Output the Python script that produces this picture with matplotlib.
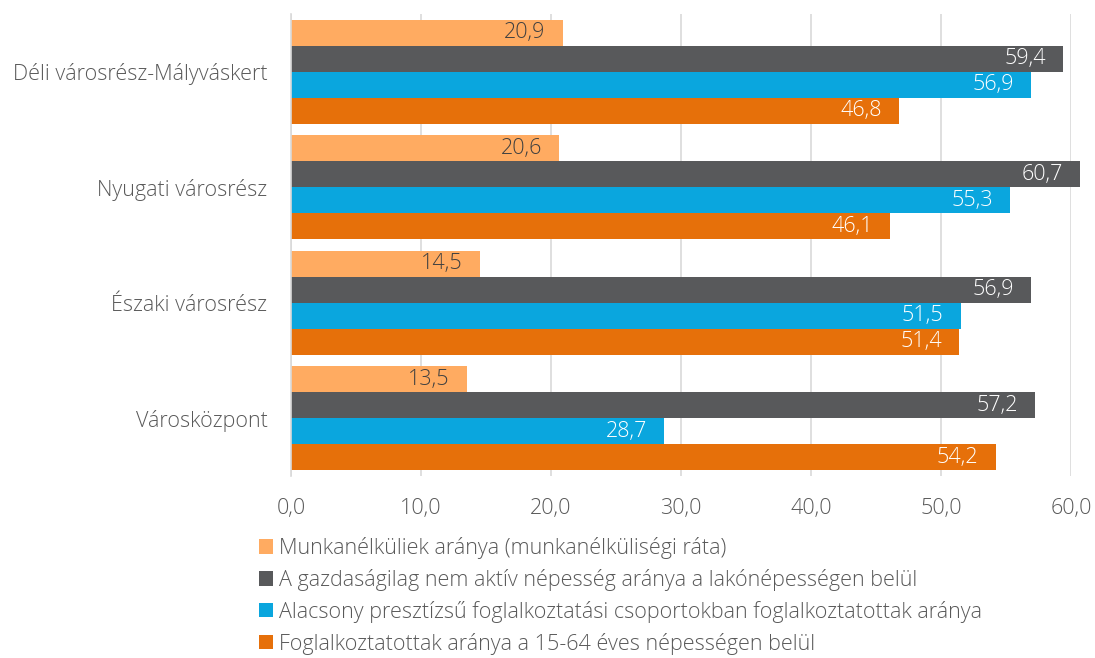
import numpy as np
import matplotlib
matplotlib.use("Agg")
import matplotlib.pyplot as plt

plt.rcParams['font.family'] = ['Open Sans', 'DejaVu Sans']

# adatok
categories = ["Déli városrész-Mályváskert", "Nyugati városrész",
              "Északi városrész", "Városközpont"]
series_names = [
    "Munkanélküliek aránya (munkanélküliségi ráta)",
    "A gazdaságilag nem aktív népesség aránya a lakónépességen belül",
    "Alacsony presztízsű foglalkoztatási csoportokban foglalkoztatottak aránya",
    "Foglalkoztatottak aránya a 15-64 éves népességen belül",
]
munkanelkuli = [20.9, 20.6, 14.5, 13.5]
nem_aktiv = [59.4, 60.7, 56.9, 57.2]
alacsony = [56.9, 55.3, 51.5, 28.7]
foglalkoztatott = [46.8, 46.1, 51.4, 54.2]
xticks = [0, 10, 20, 30, 40, 50, 60]

colors = ['#FFAB61', '#58595B', '#0AA6DE', '#E6700A']
label_colors = ['#404040', 'white', 'white', 'white']
text_color = '#595959'
fs = 15.5

fig = plt.figure(figsize=(10.95, 6.58), dpi=100)
W, H = 1095, 658
ax = fig.add_axes([291 / W, 1 - 476 / H, (1071 - 291) / W, (476 - 14) / H])

all_series = [munkanelkuli, nem_aktiv, alacsony, foglalkoztatott]
bh = 26 / 116
y = np.arange(len(categories))
for i, vals in enumerate(all_series):
    pos = y + (i - 1.5) * bh
    bars = ax.barh(pos, vals, height=bh, color=colors[i], label=series_names[i],
                   zorder=2, clip_on=False)
    for b, v in zip(bars, vals):
        ax.annotate(f"{v:.1f}".replace('.', ','), xy=(v, b.get_y() + bh / 2),
                    xytext=(-17, 0), textcoords='offset pixels',
                    ha='right', va='center', fontsize=fs, color=label_colors[i],
                    fontweight='light', zorder=3, annotation_clip=False)

ax.set_ylim(3.5, -0.5)
ax.set_xlim(0, 60)
ax.set_yticks(y)
ax.set_yticklabels(categories)
ax.set_xticks(xticks)
ax.set_xticklabels([f"{t:.1f}".replace('.', ',') for t in xticks])
ax.tick_params(axis='both', length=0, labelsize=fs, labelcolor=text_color)
ax.tick_params(axis='y', pad=17)
ax.tick_params(axis='x', pad=16)
for lab in ax.get_xticklabels() + ax.get_yticklabels():
    lab.set_fontweight('light')
ax.grid(axis='x', color='#D9D9D9', linewidth=1.2, zorder=0)
for s in ['top', 'right', 'bottom']:
    ax.spines[s].set_visible(False)
ax.spines['left'].set_color('#D9D9D9')
ax.spines['left'].set_linewidth(1.2)

leg = fig.legend(loc='upper left', bbox_to_anchor=(259 / W, 1 - 537 / H),
                 frameon=False, fontsize=fs, handlelength=0.65, handleheight=0.65,
                 handletextpad=0.3, labelspacing=0.46, borderaxespad=0, borderpad=0)
for t in leg.get_texts():
    t.set_color(text_color)
    t.set_fontweight('light')

fig.savefig("out.png", dpi=100)
